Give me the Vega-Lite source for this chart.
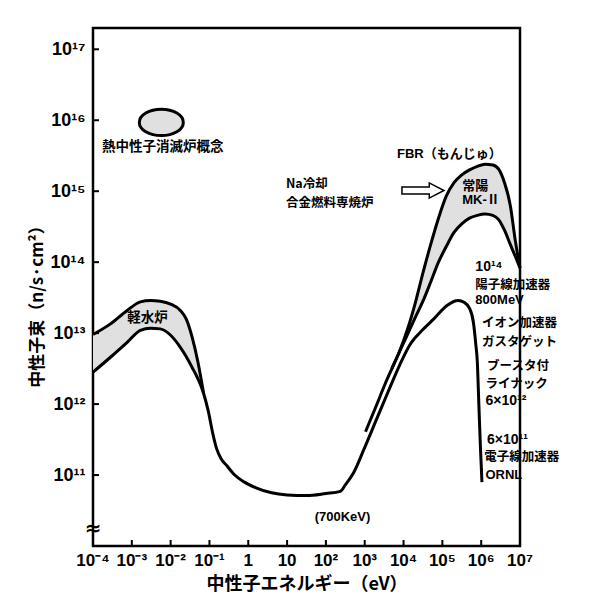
{
  "$schema": "https://vega.github.io/schema/vega-lite/v6.json",
  "width": 427,
  "height": 518,
  "autosize": {"type": "none"},
  "padding": {"left": 93, "top": 28, "right": 81, "bottom": 57},
  "background": "white",
  "config": {
    "view": {"stroke": "black", "strokeWidth": 2.5},
    "axis": {
      "grid": false,
      "domain": false,
      "ticks": false,
      "labelFont": "Liberation Sans",
      "labelFontWeight": "bold",
      "labelFontSize": 18,
      "labelColor": "black",
      "titleFont": "Noto Sans CJK JP",
      "titleFontWeight": "bold",
      "titleFontSize": 18,
      "titleColor": "black"
    }
  },
  "datasets": {
    "curves": [
      {"series": "lwr_upper", "logE": -4, "logFlux": 12.98},
      {"series": "lwr_upper", "logE": -3.55, "logFlux": 13.13},
      {"series": "lwr_upper", "logE": -3.12, "logFlux": 13.32},
      {"series": "lwr_upper", "logE": -2.78, "logFlux": 13.44},
      {"series": "lwr_upper", "logE": -2.52, "logFlux": 13.46},
      {"series": "lwr_upper", "logE": -2.27, "logFlux": 13.45},
      {"series": "lwr_upper", "logE": -2.0, "logFlux": 13.41},
      {"series": "lwr_upper", "logE": -1.75, "logFlux": 13.32},
      {"series": "lwr_upper", "logE": -1.6, "logFlux": 13.2},
      {"series": "lwr_upper", "logE": -1.45, "logFlux": 12.95},
      {"series": "lwr_upper", "logE": -1.3, "logFlux": 12.6},
      {"series": "lwr_upper", "logE": -1.15, "logFlux": 12.15},
      {"series": "main", "logE": -4, "logFlux": 12.45},
      {"series": "main", "logE": -3.55, "logFlux": 12.66},
      {"series": "main", "logE": -3.12, "logFlux": 12.87},
      {"series": "main", "logE": -2.78, "logFlux": 13.04},
      {"series": "main", "logE": -2.52, "logFlux": 13.07},
      {"series": "main", "logE": -2.27, "logFlux": 13.06},
      {"series": "main", "logE": -2.0, "logFlux": 12.97},
      {"series": "main", "logE": -1.75, "logFlux": 12.8},
      {"series": "main", "logE": -1.6, "logFlux": 12.67},
      {"series": "main", "logE": -1.45, "logFlux": 12.52},
      {"series": "main", "logE": -1.3, "logFlux": 12.36},
      {"series": "main", "logE": -1.15, "logFlux": 12.15},
      {"series": "main", "logE": -1.03, "logFlux": 11.9},
      {"series": "main", "logE": -0.92, "logFlux": 11.6},
      {"series": "main", "logE": -0.82, "logFlux": 11.38},
      {"series": "main", "logE": -0.7, "logFlux": 11.23},
      {"series": "main", "logE": -0.55, "logFlux": 11.13},
      {"series": "main", "logE": -0.35, "logFlux": 11.0},
      {"series": "main", "logE": -0.1, "logFlux": 10.9},
      {"series": "main", "logE": 0.2, "logFlux": 10.82},
      {"series": "main", "logE": 0.6, "logFlux": 10.75},
      {"series": "main", "logE": 1.0, "logFlux": 10.72},
      {"series": "main", "logE": 1.5, "logFlux": 10.71},
      {"series": "main", "logE": 2.0, "logFlux": 10.74},
      {"series": "main", "logE": 2.37, "logFlux": 10.77},
      {"series": "main", "logE": 2.5, "logFlux": 10.86},
      {"series": "main", "logE": 2.72, "logFlux": 11.04},
      {"series": "main", "logE": 2.97, "logFlux": 11.35},
      {"series": "main", "logE": 3.3, "logFlux": 11.78},
      {"series": "main", "logE": 3.6, "logFlux": 12.17},
      {"series": "main", "logE": 3.9, "logFlux": 12.55},
      {"series": "main", "logE": 4.18, "logFlux": 12.85},
      {"series": "main", "logE": 4.5, "logFlux": 13.05},
      {"series": "main", "logE": 4.78, "logFlux": 13.2},
      {"series": "main", "logE": 5.12, "logFlux": 13.39},
      {"series": "main", "logE": 5.4, "logFlux": 13.46},
      {"series": "main", "logE": 5.57, "logFlux": 13.43},
      {"series": "main", "logE": 5.7, "logFlux": 13.35},
      {"series": "main", "logE": 5.8, "logFlux": 13.15},
      {"series": "main", "logE": 5.86, "logFlux": 12.85},
      {"series": "main", "logE": 5.9, "logFlux": 12.6},
      {"series": "main", "logE": 5.94, "logFlux": 12.0},
      {"series": "main", "logE": 5.98, "logFlux": 11.4},
      {"series": "main", "logE": 6.02, "logFlux": 10.9},
      {"series": "fbr", "logE": 3.02, "logFlux": 11.61},
      {"series": "fbr", "logE": 3.3, "logFlux": 11.98},
      {"series": "fbr", "logE": 3.53, "logFlux": 12.29},
      {"series": "fbr", "logE": 3.7, "logFlux": 12.5},
      {"series": "fbr", "logE": 3.88, "logFlux": 12.72},
      {"series": "fbr", "logE": 4.1, "logFlux": 13.05},
      {"series": "fbr", "logE": 4.3, "logFlux": 13.42},
      {"series": "fbr", "logE": 4.5, "logFlux": 13.85},
      {"series": "fbr", "logE": 4.7, "logFlux": 14.25},
      {"series": "fbr", "logE": 4.9, "logFlux": 14.62},
      {"series": "fbr", "logE": 5.1, "logFlux": 14.93},
      {"series": "fbr", "logE": 5.3, "logFlux": 15.12},
      {"series": "fbr", "logE": 5.5, "logFlux": 15.23},
      {"series": "fbr", "logE": 5.7, "logFlux": 15.3},
      {"series": "fbr", "logE": 5.9, "logFlux": 15.35},
      {"series": "fbr", "logE": 6.1, "logFlux": 15.38},
      {"series": "fbr", "logE": 6.3, "logFlux": 15.37},
      {"series": "fbr", "logE": 6.45, "logFlux": 15.31},
      {"series": "fbr", "logE": 6.6, "logFlux": 15.12},
      {"series": "fbr", "logE": 6.75, "logFlux": 14.8},
      {"series": "fbr", "logE": 6.88, "logFlux": 14.3},
      {"series": "fbr", "logE": 7.0, "logFlux": 13.92},
      {"series": "joyo", "logE": 3.7, "logFlux": 12.5},
      {"series": "joyo", "logE": 3.88, "logFlux": 12.72},
      {"series": "joyo", "logE": 4.1, "logFlux": 12.98},
      {"series": "joyo", "logE": 4.3, "logFlux": 13.22},
      {"series": "joyo", "logE": 4.5, "logFlux": 13.45},
      {"series": "joyo", "logE": 4.7, "logFlux": 13.72},
      {"series": "joyo", "logE": 4.9, "logFlux": 14.0},
      {"series": "joyo", "logE": 5.1, "logFlux": 14.22},
      {"series": "joyo", "logE": 5.3, "logFlux": 14.42},
      {"series": "joyo", "logE": 5.5, "logFlux": 14.54},
      {"series": "joyo", "logE": 5.7, "logFlux": 14.62},
      {"series": "joyo", "logE": 5.9, "logFlux": 14.66},
      {"series": "joyo", "logE": 6.1, "logFlux": 14.68},
      {"series": "joyo", "logE": 6.3, "logFlux": 14.66},
      {"series": "joyo", "logE": 6.45, "logFlux": 14.6},
      {"series": "joyo", "logE": 6.6, "logFlux": 14.45},
      {"series": "joyo", "logE": 6.75, "logFlux": 14.25},
      {"series": "joyo", "logE": 6.88, "logFlux": 14.08},
      {"series": "joyo", "logE": 7.0, "logFlux": 13.92}
    ],
    "bands": [
      {"band": "lwr", "logE": -4, "lo": 12.45, "hi": 12.98},
      {"band": "lwr", "logE": -3.55, "lo": 12.66, "hi": 13.13},
      {"band": "lwr", "logE": -3.12, "lo": 12.87, "hi": 13.32},
      {"band": "lwr", "logE": -2.78, "lo": 13.04, "hi": 13.44},
      {"band": "lwr", "logE": -2.52, "lo": 13.07, "hi": 13.46},
      {"band": "lwr", "logE": -2.27, "lo": 13.06, "hi": 13.45},
      {"band": "lwr", "logE": -2.0, "lo": 12.97, "hi": 13.41},
      {"band": "lwr", "logE": -1.75, "lo": 12.8, "hi": 13.32},
      {"band": "lwr", "logE": -1.6, "lo": 12.67, "hi": 13.2},
      {"band": "lwr", "logE": -1.45, "lo": 12.52, "hi": 12.95},
      {"band": "lwr", "logE": -1.3, "lo": 12.36, "hi": 12.6},
      {"band": "lwr", "logE": -1.15, "lo": 12.15, "hi": 12.15},
      {"band": "fbr", "logE": 3.88, "lo": 12.72, "hi": 12.72},
      {"band": "fbr", "logE": 4.1, "lo": 12.98, "hi": 13.05},
      {"band": "fbr", "logE": 4.3, "lo": 13.22, "hi": 13.42},
      {"band": "fbr", "logE": 4.5, "lo": 13.45, "hi": 13.85},
      {"band": "fbr", "logE": 4.7, "lo": 13.72, "hi": 14.25},
      {"band": "fbr", "logE": 4.9, "lo": 14.0, "hi": 14.62},
      {"band": "fbr", "logE": 5.1, "lo": 14.22, "hi": 14.93},
      {"band": "fbr", "logE": 5.3, "lo": 14.42, "hi": 15.12},
      {"band": "fbr", "logE": 5.5, "lo": 14.54, "hi": 15.23},
      {"band": "fbr", "logE": 5.7, "lo": 14.62, "hi": 15.3},
      {"band": "fbr", "logE": 5.9, "lo": 14.66, "hi": 15.35},
      {"band": "fbr", "logE": 6.1, "lo": 14.68, "hi": 15.38},
      {"band": "fbr", "logE": 6.3, "lo": 14.66, "hi": 15.37},
      {"band": "fbr", "logE": 6.45, "lo": 14.6, "hi": 15.31},
      {"band": "fbr", "logE": 6.6, "lo": 14.45, "hi": 15.12},
      {"band": "fbr", "logE": 6.75, "lo": 14.25, "hi": 14.8},
      {"band": "fbr", "logE": 6.88, "lo": 14.08, "hi": 14.3},
      {"band": "fbr", "logE": 7.0, "lo": 13.92, "hi": 13.92}
    ],
    "labels": [
      {"kind": "big", "text": "熱中性子消滅炉概念", "logE": -3.77, "logFlux": 15.62},
      {"kind": "stack", "text": "Na冷却", "logE": 0.97, "logFlux": 15.1},
      {"kind": "stack", "text": "合金燃料専焼炉", "logE": 0.97, "logFlux": 14.84},
      {"kind": "big", "text": "軽水炉", "logE": -3.12, "logFlux": 13.21},
      {"kind": "stack", "text": "陽子線加速器", "logE": 5.85, "logFlux": 13.68},
      {"kind": "stack", "text": "イオン加速器", "logE": 6.02, "logFlux": 13.14},
      {"kind": "stack", "text": "ガスタゲット", "logE": 6.02, "logFlux": 12.88},
      {"kind": "stack", "text": "ブースタ付", "logE": 6.15, "logFlux": 12.53},
      {"kind": "stack", "text": "ライナック", "logE": 6.11, "logFlux": 12.28},
      {"kind": "stack", "text": "電子線加速器", "logE": 6.08, "logFlux": 11.25},
      {"kind": "sup", "text": "10¹⁴", "logE": 5.85, "logFlux": 13.93},
      {"kind": "small", "text": "800MeV", "logE": 5.85, "logFlux": 13.46},
      {"kind": "sup", "text": "6×10¹²", "logE": 6.11, "logFlux": 12.04},
      {"kind": "sup", "text": "6×10¹¹", "logE": 6.15, "logFlux": 11.5},
      {"kind": "small", "text": "ORNL", "logE": 6.11, "logFlux": 11.0},
      {"kind": "small", "text": "FBR（もんじゅ）", "logE": 3.83, "logFlux": 15.53},
      {"kind": "small", "text": "常陽", "logE": 5.51, "logFlux": 15.08},
      {"kind": "small", "text": "MK-Ⅱ", "logE": 5.51, "logFlux": 14.88},
      {"kind": "small", "text": "(700KeV)", "logE": 1.71, "logFlux": 10.41}
    ],
    "xticks": [
      {"logE": -4, "label": "10⁻⁴"}, {"logE": -3, "label": "10⁻³"}, {"logE": -2, "label": "10⁻²"},
      {"logE": -1, "label": "10⁻¹"}, {"logE": 0, "label": "1"}, {"logE": 1, "label": "10"},
      {"logE": 2, "label": "10²"}, {"logE": 3, "label": "10³"}, {"logE": 4, "label": "10⁴"},
      {"logE": 5, "label": "10⁵"}, {"logE": 6, "label": "10⁶"}, {"logE": 7, "label": "10⁷"}
    ],
    "yticks": [
      {"logFlux": 11}, {"logFlux": 12}, {"logFlux": 13}, {"logFlux": 14},
      {"logFlux": 15}, {"logFlux": 16}, {"logFlux": 17}
    ]
  },
  "layer": [
    {
      "data": {"name": "bands"},
      "mark": {"type": "area", "fill": "#e0e0e0", "interpolate": "monotone"},
      "encoding": {
        "x": {
          "field": "logE", "type": "quantitative",
          "scale": {"domain": [-4, 7], "nice": false, "zero": false},
          "axis": {
            "labels": false,
            "title": "中性子エネルギー（eV）",
            "titlePadding": 29
          }
        },
        "y": {
          "field": "hi", "type": "quantitative",
          "scale": {"domain": [10, 17.3], "nice": false, "zero": false},
          "axis": {
            "values": [11, 12, 13, 14, 15, 16, 17],
            "labelExpr": "['10¹¹','10¹²','10¹³','10¹⁴','10¹⁵','10¹⁶','10¹⁷'][datum.value - 11]",
            "labelPadding": 8,
            "labelFlush": false,
            "labelOverlap": false,
            "title": "中性子束（n/s·cm²）",
            "titleFontSize": 17,
            "titlePadding": 4,
            "titleY": 274
          }
        },
        "y2": {"field": "lo"},
        "detail": {"field": "band"}
      }
    },
    {
      "data": {"name": "xticks"},
      "mark": {"type": "tick", "orient": "vertical", "color": "black", "size": 6, "thickness": 2, "yOffset": -3, "opacity": 1},
      "encoding": {
        "x": {"field": "logE", "type": "quantitative"},
        "y": {"datum": 10}
      }
    },
    {
      "data": {"name": "xticks"},
      "mark": {"type": "text", "align": "center", "baseline": "middle", "yOffset": 15, "font": "Liberation Sans", "fontWeight": "bold", "fontSize": 17, "color": "black"},
      "encoding": {
        "x": {"field": "logE", "type": "quantitative"},
        "y": {"datum": 10},
        "text": {"field": "label"}
      }
    },
    {
      "data": {"name": "yticks"},
      "mark": {"type": "tick", "orient": "horizontal", "color": "black", "size": 6, "thickness": 2, "xOffset": 3, "opacity": 1},
      "encoding": {
        "y": {"field": "logFlux", "type": "quantitative"},
        "x": {"datum": -4}
      }
    },
    {
      "data": {"name": "curves"},
      "mark": {"type": "line", "color": "black", "strokeWidth": 3, "interpolate": "monotone"},
      "encoding": {
        "x": {"field": "logE", "type": "quantitative"},
        "y": {"field": "logFlux", "type": "quantitative"},
        "detail": {"field": "series"}
      }
    },
    {
      "data": {"values": [{"logE": -2.24, "logFlux": 15.97}]},
      "mark": {
        "type": "point",
        "shape": "M -1 0 A 1 0.6 0 1 1 1 0 A 1 0.6 0 1 1 -1 0 Z",
        "size": 1936,
        "filled": true,
        "fill": "#e0e0e0",
        "stroke": "black",
        "strokeWidth": 3,
        "opacity": 1
      },
      "encoding": {
        "x": {"field": "logE", "type": "quantitative"},
        "y": {"field": "logFlux", "type": "quantitative"}
      }
    },
    {
      "data": {"values": [{"logE": 4.5, "logFlux": 15.01}]},
      "mark": {
        "type": "point",
        "shape": "M -1 -0.17 L 0.3 -0.17 L 0.3 -0.36 L 1 0 L 0.3 0.36 L 0.3 0.17 L -1 0.17 Z",
        "size": 1764,
        "filled": true,
        "fill": "white",
        "stroke": "black",
        "strokeWidth": 1.5,
        "opacity": 1
      },
      "encoding": {
        "x": {"field": "logE", "type": "quantitative"},
        "y": {"field": "logFlux", "type": "quantitative"}
      }
    },
    {
      "data": {"name": "labels"},
      "transform": [{"filter": "datum.kind === 'big'"}],
      "mark": {"type": "text", "align": "left", "baseline": "middle", "font": "Noto Sans CJK JP", "fontWeight": "bold", "fontSize": 13.5, "color": "black"},
      "encoding": {
        "x": {"field": "logE", "type": "quantitative"},
        "y": {"field": "logFlux", "type": "quantitative"},
        "text": {"field": "text"}
      }
    },
    {
      "data": {"name": "labels"},
      "transform": [{"filter": "datum.kind === 'stack'"}],
      "mark": {"type": "text", "align": "left", "baseline": "middle", "font": "Noto Sans CJK JP", "fontWeight": "bold", "fontSize": 12.5, "color": "black"},
      "encoding": {
        "x": {"field": "logE", "type": "quantitative"},
        "y": {"field": "logFlux", "type": "quantitative"},
        "text": {"field": "text"}
      }
    },
    {
      "data": {"name": "labels"},
      "transform": [{"filter": "datum.kind === 'small'"}],
      "mark": {"type": "text", "align": "left", "baseline": "middle", "font": "Liberation Sans, Noto Sans CJK JP", "fontWeight": "bold", "fontSize": 13, "color": "black"},
      "encoding": {
        "x": {"field": "logE", "type": "quantitative"},
        "y": {"field": "logFlux", "type": "quantitative"},
        "text": {"field": "text"}
      }
    },
    {
      "data": {"name": "labels"},
      "transform": [{"filter": "datum.kind === 'sup'"}],
      "mark": {"type": "text", "align": "left", "baseline": "middle", "font": "Liberation Sans", "fontWeight": "bold", "fontSize": 14, "color": "black"},
      "encoding": {
        "x": {"field": "logE", "type": "quantitative"},
        "y": {"field": "logFlux", "type": "quantitative"},
        "text": {"field": "text"}
      }
    },
    {
      "data": {"values": [{"logE": -4, "logFlux": 10.24, "text": "≈"}]},
      "mark": {"type": "text", "align": "center", "baseline": "middle", "font": "DejaVu Sans", "fontWeight": "bold", "fontSize": 20, "color": "black"},
      "encoding": {
        "x": {"field": "logE", "type": "quantitative"},
        "y": {"field": "logFlux", "type": "quantitative"},
        "text": {"field": "text"}
      }
    }
  ]
}
